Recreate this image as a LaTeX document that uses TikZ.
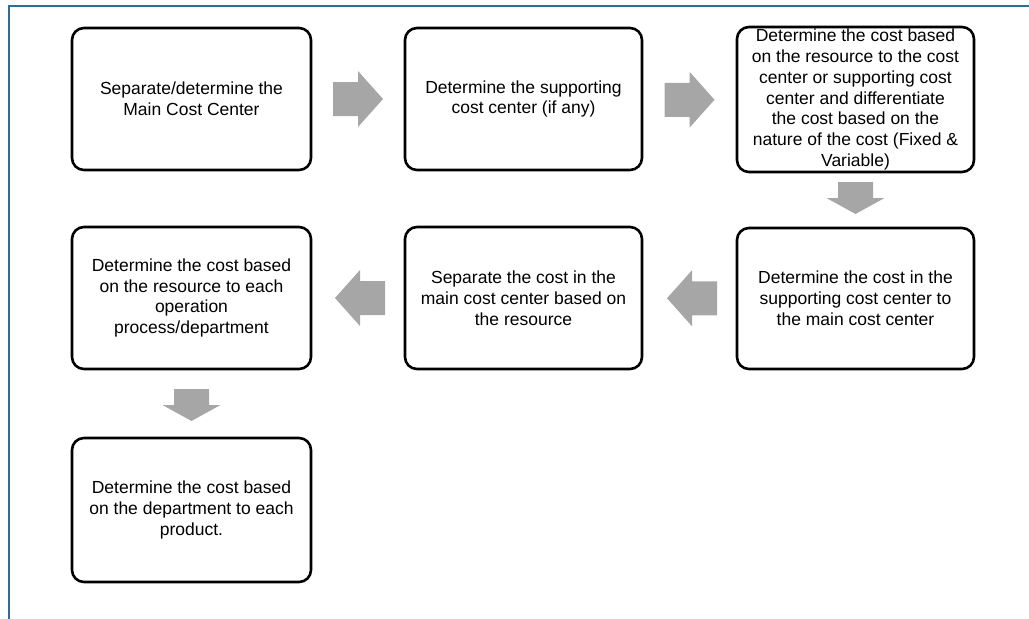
\documentclass[tikz,border=0pt]{standalone}
\usepackage{fontspec}
\setmainfont{Liberation Sans}
\usetikzlibrary{calc}
\definecolor{frameblue}{RGB}{46,110,150}
\definecolor{arrowgray}{RGB}{166,166,166}
\tikzset{
  stepbox/.style={draw=black, line width=2.6pt, rounded corners=12pt, fill=white,
    align=center, inner sep=0pt, minimum width=237pt, minimum height=142pt,
    font=\fontsize{17.5}{20.8}\selectfont},
  harrow/.pic={\fill[arrowgray] (-25,-17) -- (0,-17) -- (0,-28) -- (25,0) -- (0,28) -- (0,17) -- (-25,17) -- cycle;},
  varrow/.pic={\fill[arrowgray] (-17.5,-16) -- (17.5,-16) -- (17.5,0) -- (29,0) -- (0,16) -- (-29,0) -- (-17.5,0) -- cycle;}
}
\begin{document}
\begin{tikzpicture}[x=1pt,y=-1pt]
\useasboundingbox (0,0) rectangle (1029,619);
\draw[frameblue, line width=2pt] (9,619) -- (9,6) -- (1029,6);

\node[stepbox, minimum width=239pt] (b1) at (191.5,99) {Separate/determine the\\Main Cost Center};
\node[stepbox] (b2) at (523.5,99) {Determine the supporting\\cost center (if any)};
\node[stepbox, minimum height=145pt] (b3) at (855.5,99.5) {Determine the cost based\\on the resource to the cost\\center or supporting cost\\center and differentiate\\the cost based on the\\nature of the cost (Fixed \&\\Variable)};
\node[stepbox, minimum height=141pt] (b6) at (855.5,298.5) {Determine the cost in the\\supporting cost center to\\the main cost center};
\node[stepbox] (b5) at (523.5,298) {Separate the cost in the\\main cost center based on\\the resource};
\node[stepbox, minimum width=239pt] (b4) at (191.5,298) {Determine the cost based\\on the resource to each\\operation\\process/department};
\node[stepbox, minimum width=239pt, minimum height=144pt] (b7) at (191.5,510) {Determine the cost based\\on the department to each\\product.};

\pic at ($(b1.east)!0.5!(b2.west)$) {harrow};
\pic at ($(b2.east)!0.5!(b3.west)+(0,0.5)$) {harrow};
\pic at ($(b3.south)!0.5!(b6.north)+(0,-2)$) {varrow};
\pic[rotate=180] at ($(b6.west)!0.5!(b5.east)+(2.5,0)$) {harrow};
\pic[rotate=180] at ($(b5.west)!0.5!(b4.east)+(2,0)$) {harrow};
\pic at ($(b4.south)!0.5!(b7.north)+(0,1.5)$) {varrow};
\end{tikzpicture}
\end{document}
